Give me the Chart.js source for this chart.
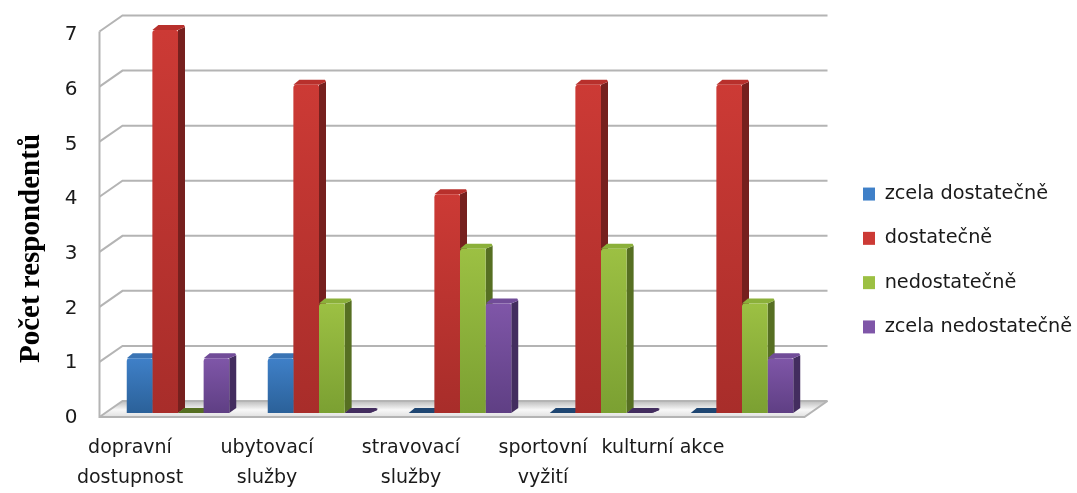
<!DOCTYPE html>
<html>
<head>
<meta charset="utf-8">
<title>Počet respondentů</title>
<script src="https://cdn.jsdelivr.net/npm/chart.js@4/dist/chart.umd.min.js"></script>
<style>
    html, body { margin: 0; padding: 0; background: #fff; }
    #wrap { width: 1077px; height: 493px; }
    canvas { filter: blur(0.6px); }
</style>
</head>
<body>
<div id="wrap"><canvas id="chart"></canvas></div>
<script>
const categories = [["dopravní", "dostupnost"], ["ubytovací", "služby"], ["stravovací", "služby"], ["sportovní", "vyžití"], ["kulturní akce"]];
const zcelaDostatecne = [1, 1, 0, 0, 0];
const dostatecne = [7, 6, 4, 6, 6];
const nedostatecne = [0, 2, 3, 3, 2];
const zcelaNedostatecne = [1, 0, 2, 0, 1];
const yTicks = [0, 1, 2, 3, 4, 5, 6, 7];

// barvy: horní a spodní část přední stěny, bok, vršek
const blue = ["#3f80c8", "#2b6199", "#1f4672", "#3a74b4"];
const red = ["#cc3a35", "#a82d2a", "#76201e", "#b8302c"];
const green = ["#9cc043", "#7ba032", "#566f22", "#8bb03a"];
const purple = ["#7f56a8", "#5f3f84", "#432d5f", "#714c98"];

// posun popisků kategorií vůči středu skupiny
const labelShift = [-48, -52, -49, -58, -79];
// hloubka sloupce a posun zadní stěny
const barDepth = [7, -5];
const wallShift = [23, -16];
const legendWidth = 264.5;
const legendShift = [25.5, -1];
const titleShift = 27;
const yLabelShift = 5;

function frontFill(colors) {
    return function (ctx) {
        const { chart } = ctx;
        if (!chart.chartArea || ctx.type !== "data") return colors[0];
        const y = chart.scales.y;
        const g = chart.ctx.createLinearGradient(0, y.getPixelForValue(ctx.parsed.y), 0, y.getPixelForValue(0));
        g.addColorStop(0, colors[0]);
        g.addColorStop(1, colors[1]);
        return g;
    };
}

function dataset(label, values, colors) {
    return {
        label: label,
        data: values,
        backgroundColor: frontFill(colors),
        borderSkipped: false,
        borderRadius: { topLeft: 3, topRight: 2, bottomLeft: 0, bottomRight: 0 },
        legendColor: colors[0],
        sideColor: colors[2],
        topColor: colors[3]
    };
}

// stěny, podlaha a mřížka
const wallsPlugin = {
    id: "walls",
    beforeDatasetsDraw(chart) {
        const c = chart.ctx;
        const y = chart.scales.y;
        const area = chart.chartArea;
        const frontLeft = area.left - 8;
        const frontRight = area.right - 8;
        const frontY = v => y.getPixelForValue(v) + 4 - v * 0.35;
        c.save();

        // podlaha
        const floor = c.createLinearGradient(0, frontY(0) + wallShift[1], 0, frontY(0));
        floor.addColorStop(0, "#bcbcbc");
        floor.addColorStop(0.55, "#f8f8f8");
        floor.addColorStop(1, "#e0e0e0");
        c.fillStyle = floor;
        c.beginPath();
        c.moveTo(frontLeft, frontY(0));
        c.lineTo(frontLeft + wallShift[0], frontY(0) + wallShift[1]);
        c.lineTo(frontRight + wallShift[0], frontY(0) + wallShift[1]);
        c.lineTo(frontRight, frontY(0));
        c.closePath();
        c.fill();

        c.strokeStyle = "#b4b4b4";
        c.lineWidth = 2;
        yTicks.forEach(v => {
            c.beginPath();
            c.moveTo(frontLeft, frontY(v));
            c.lineTo(frontLeft + wallShift[0], frontY(v) + wallShift[1]);
            c.lineTo(frontRight + wallShift[0], frontY(v) + wallShift[1]);
            c.stroke();
        });
        c.beginPath();
        c.moveTo(frontLeft, frontY(7));
        c.lineTo(frontLeft, frontY(0));
        c.lineTo(frontRight, frontY(0));
        c.lineTo(frontRight + wallShift[0], frontY(0) + wallShift[1]);
        c.stroke();

        // boky a vršky sloupců, přední stěny je překryjí
        chart.data.datasets.forEach((ds, i) => {
            chart.getDatasetMeta(i).data.forEach((bar, j) => {
                const left = bar.x - bar.width / 2;
                const right = bar.x + bar.width / 2;
                const top = bar.y;
                const base = bar.base;
                const dx = barDepth[0];
                const dy = barDepth[1];
                c.fillStyle = ds.sideColor;
                c.beginPath();
                c.moveTo(right, top);
                c.lineTo(right + dx, top + dy + 2);
                c.lineTo(right + dx, base + dy);
                c.lineTo(right, base);
                c.closePath();
                c.fill();
                c.fillStyle = ds.data[j] === 0 ? ds.sideColor : ds.topColor;
                c.beginPath();
                c.moveTo(left, top);
                c.lineTo(left + dx - 1, top + dy);
                c.lineTo(right + dx - 1, top + dy);
                c.lineTo(right + dx, top + dy + 2);
                c.lineTo(right, top);
                c.closePath();
                c.fill();
            });
        });
        c.restore();
    }
};

// legenda, popisky a titulek osy nejsou tam, kam je Chart.js sám dá
const placementPlugin = {
    id: "placement",
    beforeInit(chart) {
        const fit = chart.legend.fit;
        chart.legend.fit = function () {
            fit.call(this);
            this.width = legendWidth;
        };
    },
    afterLayout(chart) {
        chart.legend.left += legendShift[0];
        chart.legend.top += legendShift[1];
        chart.legend.bottom += legendShift[1];
        const yScale = chart.scales.y;
        if (!yScale.shiftedTitle) {
            const drawTitle = yScale.drawTitle;
            yScale.drawTitle = function () {
                chart.ctx.save();
                chart.ctx.translate(0, titleShift);
                drawTitle.call(this);
                chart.ctx.restore();
            };
            yScale.shiftedTitle = true;
        }
    },
    afterUpdate(chart) {
        chart.scales.x.getLabelItems().forEach((item, i) => {
            item.options.translation[0] += labelShift[i];
        });
        chart.scales.y.getLabelItems().forEach(item => {
            item.options.translation[1] += yLabelShift;
        });
    }
};

new Chart(document.getElementById("chart"), {
    type: "bar",
    data: {
        labels: categories,
        datasets: [
            dataset("zcela dostatečně", zcelaDostatecne, blue),
            dataset("dostatečně", dostatecne, red),
            dataset("nedostatečně", nedostatecne, green),
            dataset("zcela nedostatečně", zcelaNedostatecne, purple)
        ]
    },
    options: {
        responsive: true,
        maintainAspectRatio: false,
        animation: false,
        layout: { padding: { left: 14, top: 30, right: 0, bottom: 0 } },
        datasets: { bar: { categoryPercentage: 0.727, barPercentage: 1 } },
        plugins: {
            tooltip: { enabled: false },
            legend: {
                position: "right",
                labels: {
                    color: "#1a1a1a",
                    font: { family: "DejaVu Sans", size: 19.3 },
                    boxWidth: 12,
                    boxHeight: 13,
                    padding: 25,
                    generateLabels(chart) {
                        return chart.data.datasets.map((ds, i) => ({
                            text: ds.label,
                            fillStyle: ds.legendColor,
                            strokeStyle: ds.legendColor,
                            lineWidth: 0,
                            datasetIndex: i,
                            fontColor: "#1a1a1a"
                        }));
                    }
                }
            }
        },
        scales: {
            x: {
                grid: { display: false },
                border: { display: false },
                afterFit(scale) { scale.height = 80; },
                ticks: {
                    color: "#1a1a1a",
                    font: { family: "DejaVu Sans", size: 19, lineHeight: 1.58 },
                    maxRotation: 0,
                    autoSkip: false,
                    padding: 12
                }
            },
            y: {
                min: 0,
                max: 7,
                grid: { display: false },
                border: { display: false },
                afterFit(scale) {
                    scale.width = 93.5;
                    scale.paddingTop = 0;
                },
                afterBuildTicks(scale) { scale.ticks = yTicks.map(v => ({ value: v })); },
                title: {
                    display: true,
                    text: "Počet respondentů",
                    color: "#000",
                    font: { family: "Liberation Serif", size: 29, weight: "bold" },
                    padding: 0
                },
                ticks: { color: "#1a1a1a", font: { family: "DejaVu Sans", size: 20 }, padding: 22 }
            }
        }
    },
    plugins: [wallsPlugin, placementPlugin]
});
</script>
</body>
</html>
